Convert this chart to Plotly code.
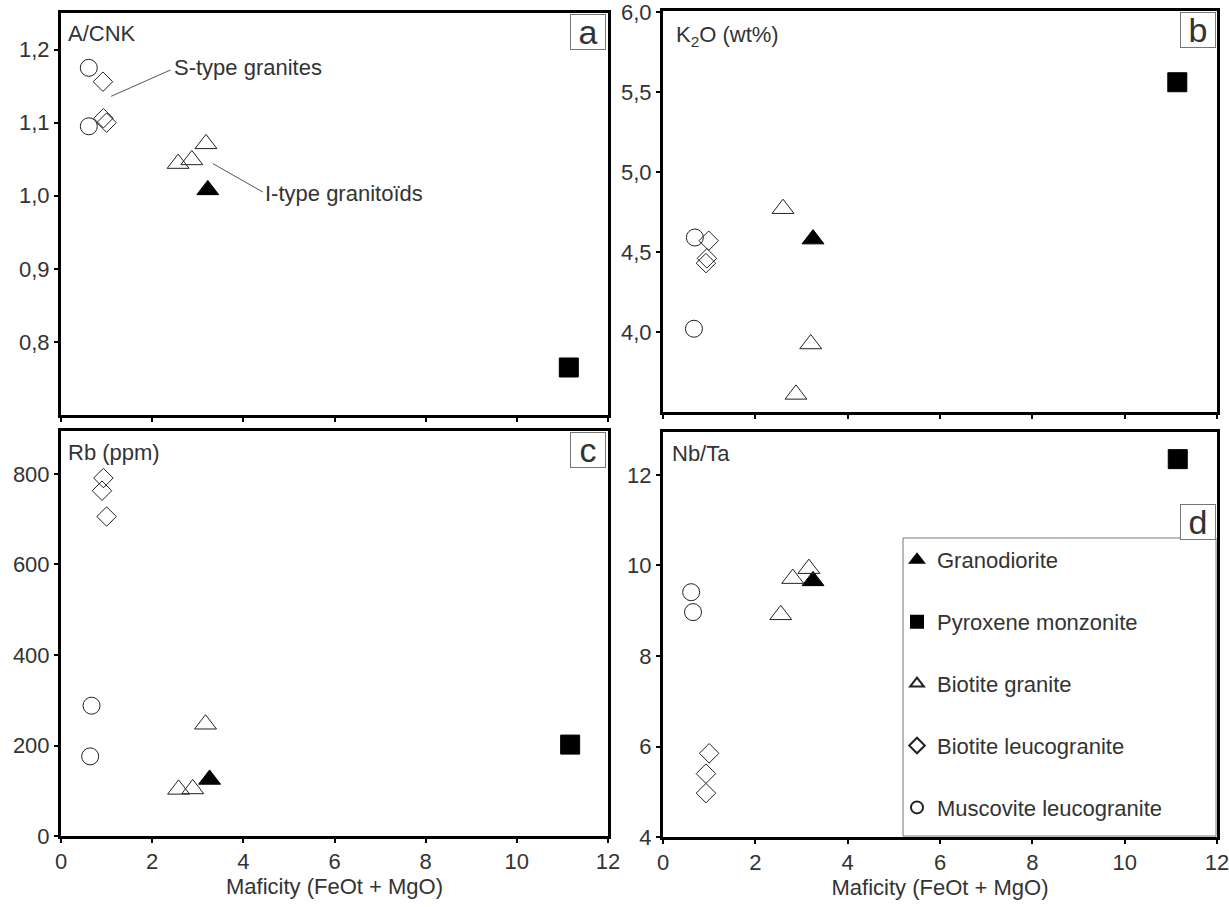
import plotly.graph_objects as go

W, H = 1229, 907

# ---------------- data ----------------
series_names = ["Granodiorite", "Pyroxene monzonite", "Biotite granite",
                "Biotite leucogranite", "Muscovite leucogranite"]

# Panel a : A/CNK vs maficity
a_grano_x = [3.22];               a_grano_y = [1.008]
a_pyrox_x = [11.14];              a_pyrox_y = [0.765]
a_biogr_x = [2.57, 2.87, 3.18];   a_biogr_y = [1.044, 1.049, 1.071]
a_bioleu_x = [0.92, 0.93, 1.0];   a_bioleu_y = [1.156, 1.106, 1.100]
a_musc_x = [0.61, 0.61];          a_musc_y = [1.175, 1.095]

# Panel b : K2O (wt%) vs maficity
b_grano_x = [3.25];               b_grano_y = [4.58]
b_pyrox_x = [11.14];              b_pyrox_y = [5.56]
b_biogr_x = [2.6, 3.2, 2.88];     b_biogr_y = [4.77, 3.925, 3.61]
b_bioleu_x = [0.99, 0.95, 0.93];  b_bioleu_y = [4.57, 4.46, 4.43]
b_musc_x = [0.69, 0.67];          b_musc_y = [4.59, 4.02]

# Panel c : Rb (ppm) vs maficity
c_grano_x = [3.26];               c_grano_y = [125]
c_pyrox_x = [11.17];              c_pyrox_y = [202]
c_biogr_x = [3.17, 2.58, 2.89];   c_biogr_y = [247, 103, 104]
c_bioleu_x = [0.93, 0.9, 1.0];    c_bioleu_y = [791, 763, 706]
c_musc_x = [0.67, 0.64];          c_musc_y = [288, 176]

# Panel d : Nb/Ta vs maficity
d_grano_x = [3.25];               d_grano_y = [9.66]
d_pyrox_x = [11.15];              d_pyrox_y = [12.35]
d_biogr_x = [2.81, 3.16, 2.55];   d_biogr_y = [9.71, 9.93, 8.91]
d_bioleu_x = [1.0, 0.93, 0.93];   d_bioleu_y = [5.85, 5.4, 4.97]
d_musc_x = [0.61, 0.65];          d_musc_y = [9.41, 8.97]

x_ticks = [0, 2, 4, 6, 8, 10, 12]
a_ticks = [0.8, 0.9, 1.0, 1.1, 1.2]; a_ticktext = ["0,8", "0,9", "1,0", "1,1", "1,2"]
b_ticks = [4.0, 4.5, 5.0, 5.5, 6.0]; b_ticktext = ["4,0", "4,5", "5,0", "5,5", "6,0"]
c_ticks = [0, 200, 400, 600, 800]
d_ticks = [4, 6, 8, 10, 12]

# ---------------- styling ----------------
FONT = "Liberation Sans, Arial, sans-serif"
TXT = "#333333"
styles = {
    "Granodiorite": dict(symbol="triangle-up", size=19, color="black", line=dict(color="black", width=1)),
    "Pyroxene monzonite": dict(symbol="square", size=19, color="black", line=dict(color="black", width=1)),
    "Biotite granite": dict(symbol="triangle-up-open", size=19, color="#222222", line=dict(width=1)),
    "Biotite leucogranite": dict(symbol="diamond-open", size=15, color="#222222", line=dict(width=1)),
    "Muscovite leucogranite": dict(symbol="circle-open", size=17, color="#222222", line=dict(width=1)),
}

panels = [
    ("x", "y", [a_grano_x, a_pyrox_x, a_biogr_x, a_bioleu_x, a_musc_x],
     [a_grano_y, a_pyrox_y, a_biogr_y, a_bioleu_y, a_musc_y]),
    ("x2", "y2", [b_grano_x, b_pyrox_x, b_biogr_x, b_bioleu_x, b_musc_x],
     [b_grano_y, b_pyrox_y, b_biogr_y, b_bioleu_y, b_musc_y]),
    ("x3", "y3", [c_grano_x, c_pyrox_x, c_biogr_x, c_bioleu_x, c_musc_x],
     [c_grano_y, c_pyrox_y, c_biogr_y, c_bioleu_y, c_musc_y]),
    ("x4", "y4", [d_grano_x, d_pyrox_x, d_biogr_x, d_bioleu_x, d_musc_x],
     [d_grano_y, d_pyrox_y, d_biogr_y, d_bioleu_y, d_musc_y]),
]

fig = go.Figure()
for pi, (xa, ya, xs, ys) in enumerate(panels):
    for name, xv, yv in zip(series_names, xs, ys):
        fig.add_trace(go.Scatter(
            x=xv, y=yv, mode="markers", name=name, xaxis=xa, yaxis=ya,
            marker=styles[name], legendgroup=name, showlegend=(pi == 3),
            hoverinfo="x+y+name"))

def px_x(p):
    return p / W

def px_y(p):
    return 1 - p / H

axis_common = dict(showline=True, linecolor="black", linewidth=3, mirror=True,
                   ticks="outside", ticklen=4, tickwidth=2, tickcolor="black",
                   showgrid=False, zeroline=False, ticklabeloverflow="allow",
                   automargin=False,
                   tickfont=dict(family=FONT, size=22, color=TXT))

xa_dom = [px_x(61), px_x(608)]
xb_dom = [px_x(663), px_x(1217)]

fig.update_layout(
    width=W, height=H, margin=dict(l=0, r=0, t=0, b=0, autoexpand=False),
    paper_bgcolor="white", plot_bgcolor="white",
    font=dict(family=FONT, size=22, color=TXT),
    xaxis=dict(domain=xa_dom, range=[0, 12], tickvals=x_ticks, showticklabels=False,
               anchor="y", **axis_common),
    xaxis2=dict(domain=xb_dom, range=[0, 12], tickvals=x_ticks, showticklabels=False,
                anchor="y2", **axis_common),
    xaxis3=dict(domain=xa_dom, range=[0, 12], tickvals=x_ticks, anchor="y3",
                title=dict(text="Maficity (FeOt + MgO)", standoff=4,
                           font=dict(family=FONT, size=22, color=TXT)), **axis_common),
    xaxis4=dict(domain=xb_dom, range=[0, 12], tickvals=x_ticks, anchor="y4",
                title=dict(text="Maficity (FeOt + MgO)", standoff=4,
                           font=dict(family=FONT, size=22, color=TXT)), **axis_common),
    yaxis=dict(domain=[px_y(415), px_y(13)], range=[0.70, 1.25], tickvals=a_ticks,
               ticktext=a_ticktext, anchor="x", **axis_common),
    yaxis2=dict(domain=[px_y(412), px_y(11)], range=[3.5, 6.005], tickvals=b_ticks,
                ticktext=b_ticktext, anchor="x2", **axis_common),
    yaxis3=dict(domain=[px_y(836), px_y(431)], range=[0, 895], tickvals=c_ticks,
                anchor="x3", **axis_common),
    yaxis4=dict(domain=[px_y(837), px_y(432)], range=[4, 12.95], tickvals=d_ticks,
                anchor="x4", **axis_common),
    legend=dict(x=px_x(897), y=px_y(539), xanchor="left", yanchor="top",
                bgcolor="rgba(0,0,0,0)", borderwidth=0, tracegroupgap=30.3,
                itemsizing="constant",
                font=dict(family=FONT, size=22, color=TXT)),
    showlegend=True,
)

# legend frame
fig.add_shape(type="rect", xref="paper", yref="paper",
              x0=px_x(903), x1=px_x(1216), y0=px_y(836), y1=px_y(538),
              line=dict(color="#777777", width=1), fillcolor="rgba(0,0,0,0)", layer="above")

# inner axis titles
inner_titles = [
    ("A/CNK", 66, 33),
    ("K<sub>2</sub>O (wt%)", 674, 36),
    ("Rb (ppm)", 66, 452),
    ("Nb/Ta", 670, 453),
]
for txt, px, py in inner_titles:
    fig.add_annotation(text=txt, xref="paper", yref="paper", x=px_x(px), y=px_y(py),
                       xanchor="left", yanchor="middle", showarrow=False,
                       font=dict(family=FONT, size=22, color=TXT))

# panel letters in boxes
letters = [("a", 606, 14), ("b", 1216, 12), ("c", 606, 432), ("d", 1216, 504)]
for letter, px, py in letters:
    fig.add_annotation(text=letter, xref="paper", yref="paper", x=px_x(px), y=px_y(py),
                       xanchor="right", yanchor="top", showarrow=False,
                       width=34, height=34, bordercolor="#777777", borderwidth=1,
                       bgcolor="white", borderpad=0,
                       font=dict(family=FONT, size=34, color=TXT))

# labels with leader lines in panel a
fig.add_annotation(text="S-type granites", xref="x", yref="y", x=2.44, y=1.175,
                   xanchor="left", yanchor="middle", showarrow=False,
                   font=dict(family=FONT, size=22, color=TXT))
fig.add_shape(type="line", xref="x", yref="y", x0=1.10, y0=1.136, x1=2.40, y1=1.172,
              line=dict(color="#555555", width=1))
fig.add_annotation(text="I-type granitoïds", xref="x", yref="y", x=4.43, y=1.003,
                   xanchor="left", yanchor="middle", showarrow=False,
                   font=dict(family=FONT, size=22, color=TXT))
fig.add_shape(type="line", xref="x", yref="y", x0=3.33, y0=1.044, x1=4.43, y1=1.005,
              line=dict(color="#555555", width=1))

fig.write_html("out.html", config={"displayModeBar": False},
               post_script="document.body.style.margin='0px';")
